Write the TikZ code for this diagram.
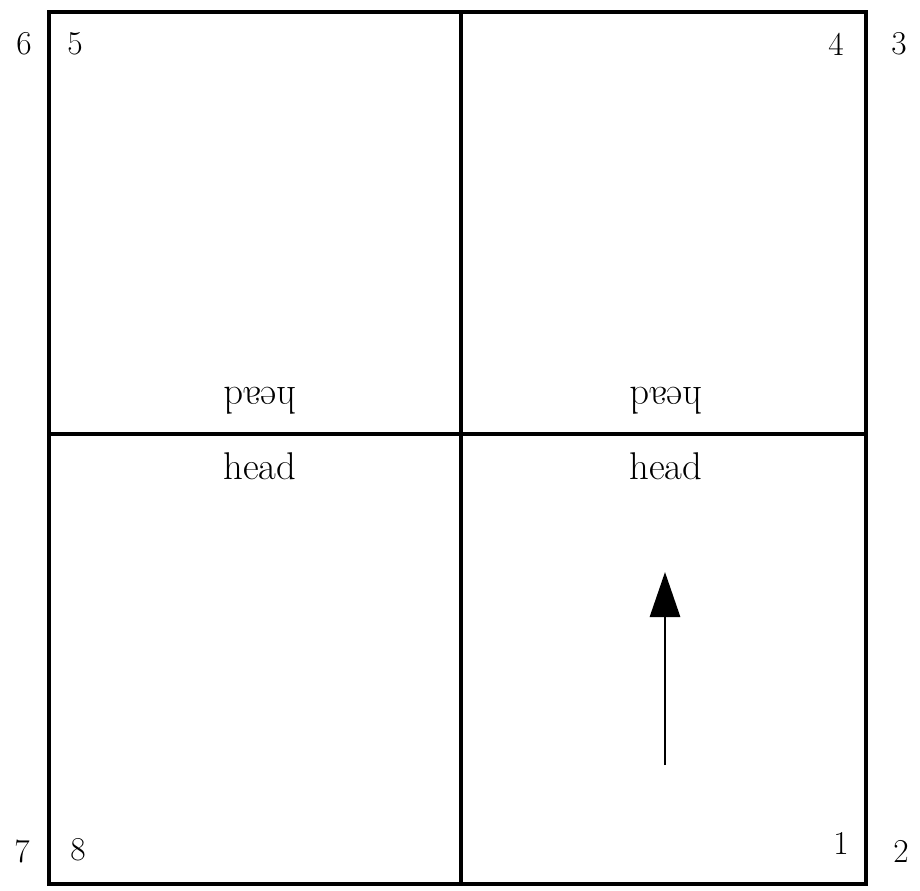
\documentclass[tikz,border=0pt]{standalone}
\usetikzlibrary{arrows.meta}

\begin{document}
\begin{tikzpicture}[
    frame/.style={draw=black, line width=2.6pt},
    num/.style={font=\fontsize{19}{22}\selectfont, inner sep=0pt},
    word/.style={font=\fontsize{22}{26}\selectfont, inner sep=0pt},
    flipword/.style={word, rotate=180},
    upref/.style={-{Triangle[length=0.9cm, width=0.6cm]}, line width=1.7pt},
    x=0.02cm, y=-0.02cm]

    \useasboundingbox (0,0) rectangle (920,890);

    % ================= the sheet, folded in four =================
    \draw[frame] (49,12) rectangle (866,884);
    \draw[frame] (461,12) -- (461,884);
    \draw[frame] (49,434) -- (866,434);

    % corner numbers, outside and inside -
    \node[num] (n6) at (24,44)  {6};
    \node[num] (n5) at (75,44)  {5};
    \node[num] (n4) at (836,44) {4};
    \node[num] (n3) at (899,44) {3};
    \node[num] (n7) at (22,851) {7};
    \node[num] (n8) at (78,850) {8};
    \node[num] (n1) at (841,843) {1};
    \node[num] (n2) at (901,851) {2};

    % heads meet at the fold -
    \node[flipword] (hUL) at (260,401) {head};
    \node[flipword] (hUR) at (666,401) {head};
    \node[word] (hLL) at (260,466) {head};
    \node[word] (hLR) at (666,466) {head};

    % which way is up -
    \coordinate (tail) at (665,765);
    \coordinate (tip)  at (665,572);
    \draw[upref] (tail) -- (tip);
\end{tikzpicture}
\end{document}
